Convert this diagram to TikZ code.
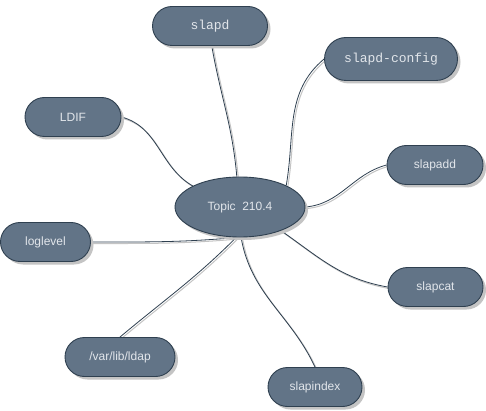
\documentclass[tikz,border=0pt]{standalone}
\usepackage{fontspec}
\setmainfont{Liberation Sans}
\setmonofont{Liberation Mono}
\usetikzlibrary{shapes.geometric,shadows,backgrounds}
\definecolor{nodefill}{HTML}{627487}
\definecolor{nodeline}{HTML}{2F4050}
\definecolor{nodetext}{HTML}{E2E6EB}
\definecolor{shadowgray}{HTML}{C4C4C4}
\tikzset{
  leaf/.style={rectangle, rounded corners=19.5pt, fill=nodefill, draw=nodeline, line width=0.9pt,
    text=nodetext, minimum height=39pt, inner sep=0pt, font=\fontsize{12}{14}\selectfont,
    drop shadow={shadow xshift=3pt, shadow yshift=-3pt, fill=shadowgray, opacity=1}},
  monoleaf/.style={leaf, font=\ttfamily\fontsize{13}{15}\selectfont},
  topicnode/.style={ellipse, fill=nodefill, draw=nodeline, line width=0.9pt, text=nodetext,
    minimum width=130pt, minimum height=60pt, inner sep=0pt, font=\fontsize{12}{14}\selectfont,
    drop shadow={shadow xshift=3pt, shadow yshift=-3pt, fill=shadowgray, opacity=1}},
  link/.style={draw=nodeline, line width=0.8pt,
    preaction={draw=shadowgray, line width=1pt, transform canvas={xshift=1.5pt,yshift=-1.5pt}}}
}
\begin{document}
\begin{tikzpicture}[x=1pt,y=-1pt]
\useasboundingbox (0,0) rectangle (486,411);
\node[topicnode] (topic) at (240,207) {Topic\ \ 210.4};
\node[monoleaf, minimum width=115pt] (slapd) at (210,26) {slapd};
\node[monoleaf, minimum width=133pt, minimum height=43pt, rounded corners=21.5pt] (config) at (391,59) {slapd-config};
\node[leaf, minimum width=96pt] (ldif) at (73,117) {LDIF};
\node[leaf, minimum width=96pt] (slapadd) at (435,165) {slapadd};
\node[leaf, minimum width=90pt] (loglevel) at (45.5,242) {loglevel};
\node[leaf, minimum width=95pt] (slapcat) at (435.5,287) {slapcat};
\node[leaf, minimum width=110pt] (varlib) at (120,357) {/var/lib/ldap};
\node[leaf, minimum width=94pt] (slapindex) at (315,387) {slapindex};

\begin{scope}[on background layer]
\fill[white] (0,0) rectangle (486,411);
\draw[link] (slapd.-85) to[out=-80, in=95] (topic.96);
\draw[link] (config.west) to[out=220, in=80] (topic.25);
\draw[link] (ldif.east) to[out=-15, in=150] (topic.156);
\draw[link] (slapadd.west) to[out=195, in=5] (topic.0);
\draw[link] (loglevel.east) to[out=0, in=185] (topic.-94);
\draw[link] (slapcat.west) to[out=170, in=-35] (topic.-30);
\draw[link] (varlib.north) to[out=40, in=-135] (topic.-97);
\draw[link] (slapindex.north) to[out=115, in=-80] (topic.-88);
\end{scope}
\end{tikzpicture}
\end{document}
